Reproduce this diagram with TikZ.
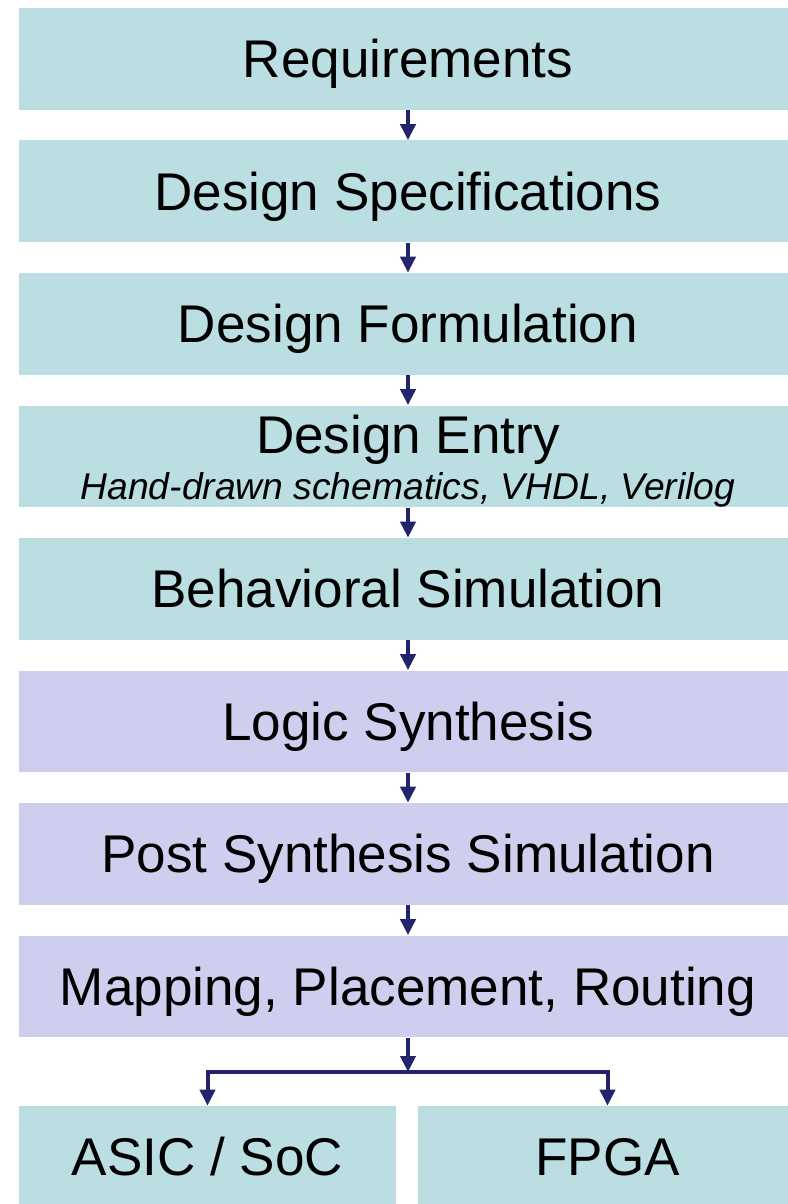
\documentclass[tikz,border=0pt]{standalone}
\usepackage{fontspec}
\setmainfont{Liberation Sans}
\usetikzlibrary{arrows.meta,positioning}
\definecolor{stagecol}{RGB}{186,222,226}
\definecolor{synthcol}{RGB}{206,207,238}
\definecolor{arrowcol}{RGB}{35,35,110}
\newcommand{\subtxt}[1]{{\fontsize{21.2pt}{24pt}\selectfont\itshape #1}}

\begin{document}
\begin{tikzpicture}[x=0.02cm, y=0.02cm,
    stage/.style={fill=stagecol, minimum width=15.56cm, minimum height=2.04cm, inner sep=0pt,
        text height=21.6pt, text depth=0pt, font=\fontsize{30.2pt}{34pt}\selectfont},
    synth/.style={stage, fill=synthcol},
    flow/.style={draw=arrowcol, line width=0.08cm, -{Triangle[width=0.3cm, length=0.32cm]}},
]
\useasboundingbox (0,0) rectangle (788,1204);
\clip (0,0) rectangle (788,1204);

\node[stage] (req)   at (408,1145)   {Requirements};
\node[stage] (spec)  at (408,1012.5) {Design Specifications};
\node[stage] (form)  at (408,880)    {Design Formulation};
\node[stage, align=center, text height=49.3pt] (entry) at (408,747.5)
    {Design Entry\\[-7.8pt]\subtxt{Hand-drawn schematics, VHDL, Verilog}};
\node[stage] (behav) at (408,615)    {Behavioral Simulation};
\node[synth] (logic) at (408,482.5)  {Logic Synthesis};
\node[synth] (post)  at (408,350)    {Post Synthesis Simulation};
\node[synth] (map)   at (408,217.5)  {Mapping, Placement, Routing};
\node[stage, minimum width=7.54cm] (asic) at (207.5,47) {ASIC / SoC};
\node[stage, minimum width=7.58cm] (fpga) at (607.5,47) {FPGA};

\foreach \a/\b in {req/spec, spec/form, form/entry, entry/behav, behav/logic, logic/post, post/map}
    \draw[flow] (\a) -- (\b);

% split towards the two targets
\coordinate (split) at (408,132);
\draw[flow] (map) -- (split);
\draw[flow] (split) -| (asic.north);
\draw[flow] (split) -| (fpga.north);
\end{tikzpicture}
\end{document}
